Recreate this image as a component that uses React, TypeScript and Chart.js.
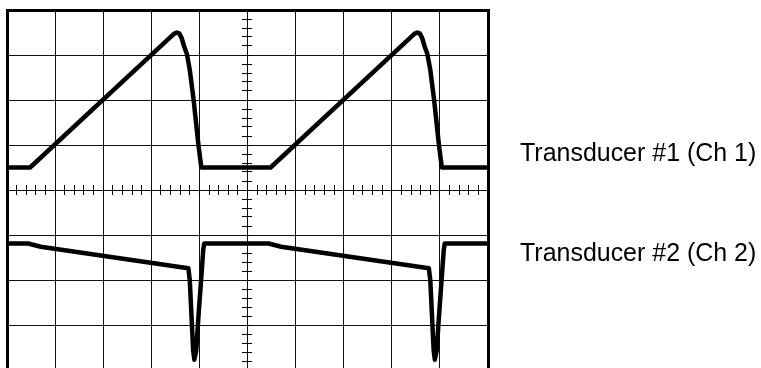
import React, { useEffect, useRef } from "react";
import { Chart, registerables } from "chart.js";

Chart.register(...registerables);

// Graticule divisions
const xGridTicks = [0, 1, 2, 3, 4, 5, 6, 7, 8, 9, 10];
const yGridTicks = [-4, -3, -2, -1, 0, 1, 2, 3, 4];

// Transducer #1 (Ch 1): x in divisions, y in divisions
const ch1X = [0, 0.48, 3.47, 3.53, 3.58, 3.63, 3.68, 3.74, 3.8, 3.88, 3.98, 4.04, 5.48, 8.47, 8.53, 8.58, 8.63, 8.68, 8.74, 8.8, 8.88, 8.98, 9.04, 10];
const ch1Y = [0.5, 0.5, 3.47, 3.5, 3.48, 3.38, 3.2, 3.02, 2.67, 2.0, 1.0, 0.5, 0.5, 3.47, 3.5, 3.48, 3.38, 3.2, 3.02, 2.67, 2.0, 1.0, 0.5, 0.5];

// Transducer #2 (Ch 2)
const ch2X = [0, 0.44, 0.7, 3.77, 3.8, 3.84, 3.87, 3.895, 3.935, 3.975, 4.035, 4.08, 4.1, 5.44, 5.7, 8.77, 8.8, 8.84, 8.87, 8.895, 8.935, 8.975, 9.035, 9.08, 9.1, 10];
const ch2Y = [-1.19, -1.19, -1.26, -1.74, -2.0, -2.89, -3.56, -3.77, -3.56, -2.89, -2.0, -1.33, -1.19, -1.19, -1.26, -1.74, -2.0, -2.89, -3.56, -3.77, -3.56, -2.89, -2.0, -1.33, -1.19, -1.19];

const seriesLabels = ["Transducer #1 (Ch 1)", "Transducer #2 (Ch 2)"];

const X_MIN = 0;
const X_MAX = 10;
const Y_MIN = -4;
const Y_MAX = 4;
const MINOR_STEP = 0.2;

const W = 761;
const H = 368;
const CANVAS_H = 372;
const GRID = "#111";

export default function App() {
  const ref = useRef<HTMLCanvasElement | null>(null);

  useEffect(() => {
    if (!ref.current) return;
    const setTicks = (vals: number[]) => (scale: any) => {
      scale.ticks = vals.map((v) => ({ value: v }));
    };
    const chart = new Chart(ref.current, {
      type: "line",
      data: {
        datasets: [
          {
            label: seriesLabels[0],
            data: ch1X.map((x, i) => ({ x, y: ch1Y[i] })),
            borderColor: "#000",
            borderWidth: 4.5,
            pointRadius: 0,
            tension: 0,
            fill: false,
            borderJoinStyle: "round",
            xAxisID: "x",
            yAxisID: "y",
          },
          {
            label: seriesLabels[1],
            data: ch2X.map((x, i) => ({ x, y: ch2Y[i] })),
            borderColor: "#000",
            borderWidth: 4.5,
            pointRadius: 0,
            tension: 0,
            fill: false,
            borderJoinStyle: "round",
            xAxisID: "x",
            yAxisID: "y",
          },
        ],
      },
      options: {
        responsive: false,
        animation: false,
        devicePixelRatio: 1,
        events: [],
        layout: { padding: { left: 7, top: 10, right: W - 488, bottom: CANVAS_H - 370 } },
        plugins: { legend: { display: false }, tooltip: { enabled: false } },
        scales: {
          x: {
            type: "linear",
            min: X_MIN,
            max: X_MAX,
            position: "bottom",
            afterBuildTicks: setTicks(xGridTicks),
            ticks: { display: false },
            grid: { color: GRID, lineWidth: 1, drawTicks: false },
            border: { display: false },
          },
          y: {
            type: "linear",
            min: Y_MIN,
            max: Y_MAX,
            position: "left",
            afterBuildTicks: setTicks(yGridTicks),
            ticks: { display: false },
            grid: { color: GRID, lineWidth: 1, drawTicks: false },
            border: { display: true, width: 3, color: "#000" },
          },
          xTop: {
            type: "linear",
            axis: "x",
            min: X_MIN,
            max: X_MAX,
            position: "top",
            afterBuildTicks: setTicks(xGridTicks),
            ticks: { display: false },
            grid: { drawOnChartArea: false, drawTicks: false, color: GRID },
            border: { display: true, width: 3, color: "#000" },
          },
          yRight: {
            type: "linear",
            axis: "y",
            min: Y_MIN,
            max: Y_MAX,
            position: "right",
            afterBuildTicks: setTicks(yGridTicks),
            ticks: { display: false },
            grid: { drawOnChartArea: false, drawTicks: false, color: GRID },
            border: { display: true, width: 3, color: "#000" },
          },
          xMinor: {
            type: "linear",
            axis: "x",
            min: X_MIN,
            max: X_MAX,
            position: { y: 5 / 45 },
            ticks: { display: false, stepSize: MINOR_STEP },
            grid: { drawOnChartArea: false, drawTicks: true, tickLength: 10, color: "#000", lineWidth: 1 },
            border: { display: false },
          },
          yMinor: {
            type: "linear",
            axis: "y",
            min: Y_MIN,
            max: Y_MAX,
            position: { x: 5 + 5 / 48.1 },
            ticks: { display: false, stepSize: MINOR_STEP },
            grid: { drawOnChartArea: false, drawTicks: true, tickLength: 10, color: "#000", lineWidth: 1 },
            border: { display: false },
          },
        },
      } as any,
    });
    return () => chart.destroy();
  }, []);

  const labelStyle: React.CSSProperties = {
    position: "absolute",
    left: 520,
    fontFamily: '"Liberation Sans", Arial, sans-serif',
    fontSize: 26,
    lineHeight: "26px",
    color: "#000",
    whiteSpace: "nowrap",
    transform: "scaleX(0.96)",
    transformOrigin: "0 0",
  };

  return (
    <div style={{ position: "absolute", left: 0, top: 0, width: W, height: H, overflow: "hidden", background: "#fff" }}>
      <canvas ref={ref} width={W} height={CANVAS_H} style={{ display: "block" }} />
      <span style={{ ...labelStyle, top: 139 }}>{seriesLabels[0]}</span>
      <span style={{ ...labelStyle, top: 239 }}>{seriesLabels[1]}</span>
    </div>
  );
}
